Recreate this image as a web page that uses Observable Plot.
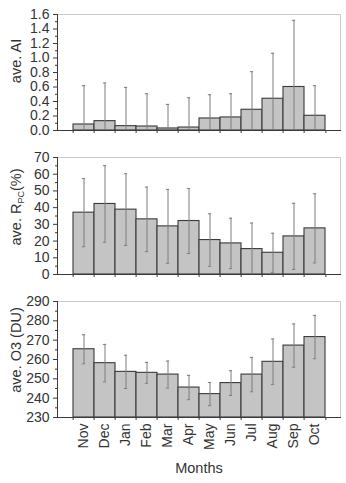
<!DOCTYPE html>
<html>
<head>
<meta charset="utf-8">
<script src="https://cdn.jsdelivr.net/npm/d3@7"></script>
<script src="https://cdn.jsdelivr.net/npm/@observablehq/plot@0.6"></script>
<style>
  html, body { margin: 0; padding: 0; background: #fff; }
  #chart { width: 346px; }
  #chart svg { display: block; }
</style>
</head>
<body>
<div id="chart"></div>
<script>
// Monthly climatology: mean ± standard deviation per month
const months = ["Nov", "Dec", "Jan", "Feb", "Mar", "Apr", "May", "Jun", "Jul", "Aug", "Sep", "Oct"];

const aiMean = [0.083, 0.129, 0.06, 0.055, 0.028, 0.041, 0.166, 0.18, 0.286, 0.438, 0.60, 0.203];
const aiSd   = [0.535, 0.526, 0.535, 0.452, 0.332, 0.411, 0.327, 0.327, 0.525, 0.627, 0.92, 0.415];

const rpcMean = [37, 42.2, 38.8, 33, 28.8, 32, 20.6, 18.6, 15.2, 13, 22.8, 27.6];
const rpcSd   = [20.4, 22.9, 21.5, 19.3, 22.1, 19.4, 15.7, 15.1, 15.6, 11.7, 19.8, 20.7];

const o3Mean = [265.3, 258.1, 253.6, 253.1, 252.2, 245.5, 242.1, 247.8, 252.2, 258.8, 267.2, 271.6];
const o3Sd   = [7.5, 9.7, 8.6, 5.4, 7, 6.3, 6, 6.4, 8.9, 11.8, 11.2, 11.2];

const aiTicks  = [0, 0.2, 0.4, 0.6, 0.8, 1.0, 1.2, 1.4, 1.6];
const aiMinor  = [0.1, 0.3, 0.5, 0.7, 0.9, 1.1, 1.3, 1.5];
const rpcTicks = [0, 10, 20, 30, 40, 50, 60, 70];
const rpcMinor = [5, 15, 25, 35, 45, 55, 65];
const o3Ticks  = [230, 240, 250, 260, 270, 280, 290];
const o3Minor  = [235, 245, 255, 265, 275, 285];

const W = 346, ML = 57, MR = 6;
const step = (W - ML - MR) / (months.length + 1); // band step with 0.5 outer padding each side
const capInset = (step - 4) / 2;
const font = "Liberation Sans, Arial, Helvetica, sans-serif";

function panel({mean, sd, domain, ticks, minor, fmt, height, marginTop, marginBottom, last, label}) {
  const rows = months.map((m, i) => ({month: m, mean: mean[i], sd: sd[i]}));
  const marks = [
    Plot.frame({stroke: "#cacaca"}),
    Plot.barY(rows, {x: "month", y1: domain[0], y2: "mean", fill: "#c4c4c4", stroke: "#3a3a3a", strokeWidth: 1.1}),
    Plot.ruleX(rows, {x: "month", y1: d => d.mean - d.sd, y2: d => d.mean + d.sd, stroke: "#7d7d7d", strokeWidth: 1, clip: true}),
    Plot.tickY(rows, {x: "month", y: d => d.mean + d.sd, stroke: "#7d7d7d", insetLeft: capInset, insetRight: capInset, clip: true}),
    Plot.tickY(rows, {x: "month", y: d => d.mean - d.sd, stroke: "#7d7d7d", insetLeft: capInset, insetRight: capInset, clip: true}),
    Plot.frame({anchor: "left", stroke: "#3a3a3a"}),
    Plot.frame({anchor: "bottom", stroke: "#3a3a3a"}),
    Plot.axisY(ticks, {tickSize: 4, tickPadding: 4, tickFormat: fmt, label: null, fontSize: 14, stroke: "#3a3a3a"}),
    Plot.axisY(minor, {tickSize: 2, tickFormat: () => "", label: null, stroke: "#3a3a3a"}),
    Plot.axisX(months, {tickSize: 3, tickFormat: () => "", label: null, dx: -step / 2, stroke: "#3a3a3a"}),
    Plot.axisX([months[months.length - 1]], {tickSize: 3, tickFormat: () => "", label: null, dx: step / 2, stroke: "#3a3a3a"})
  ];
  if (last) {
    marks.push(
      Plot.axisX(months, {tickSize: 0, tickPadding: 6, tickRotate: -90, label: null, fontSize: 14}),
      Plot.text(["Months"], {frameAnchor: "bottom", dy: 55, fontSize: 14.5, fill: "#333"})
    );
  }
  const svg = Plot.plot({
    width: W,
    height,
    marginLeft: ML,
    marginRight: MR,
    marginTop,
    marginBottom,
    style: {fontFamily: font, fontSize: "14px", color: "#333", background: "#fff", overflow: "visible"},
    x: {type: "band", domain: months, paddingInner: 0, paddingOuter: 0.5},
    y: {domain},
    marks
  });
  // rotated y-axis title, with optional subscript part
  const t = d3.select(svg).append("text")
    .attr("transform", `translate(21,${label.cy}) rotate(-90)`)
    .attr("text-anchor", "middle")
    .attr("font-family", font)
    .attr("font-size", 14.5)
    .attr("fill", "#333");
  label.parts.forEach(p => {
    const s = t.append("tspan").text(p.text);
    if (p.sub) s.attr("font-size", 9).attr("dy", 3);
    if (p.after) s.attr("dy", -3);
  });
  return svg;
}

const chart = document.getElementById("chart");

chart.appendChild(panel({
  mean: aiMean, sd: aiSd, domain: [0, 1.6], ticks: aiTicks, minor: aiMinor,
  fmt: d3.format(".1f"), height: 140, marginTop: 14, marginBottom: 10,
  label: {cy: 61, parts: [{text: "ave. AI"}]}
}));

chart.appendChild(panel({
  mean: rpcMean, sd: rpcSd, domain: [0, 70], ticks: rpcTicks, minor: rpcMinor,
  fmt: d3.format("d"), height: 144, marginTop: 17, marginBottom: 10,
  label: {cy: 67, parts: [{text: "ave. R"}, {text: "PC", sub: true}, {text: "(%)", after: true}]}
}));

chart.appendChild(panel({
  mean: o3Mean, sd: o3Sd, domain: [230, 290], ticks: o3Ticks, minor: o3Minor,
  fmt: d3.format("d"), height: 199, marginTop: 17, marginBottom: 66, last: true,
  label: {cy: 66, parts: [{text: "ave. O3 (DU)"}]}
}));
</script>
</body>
</html>
